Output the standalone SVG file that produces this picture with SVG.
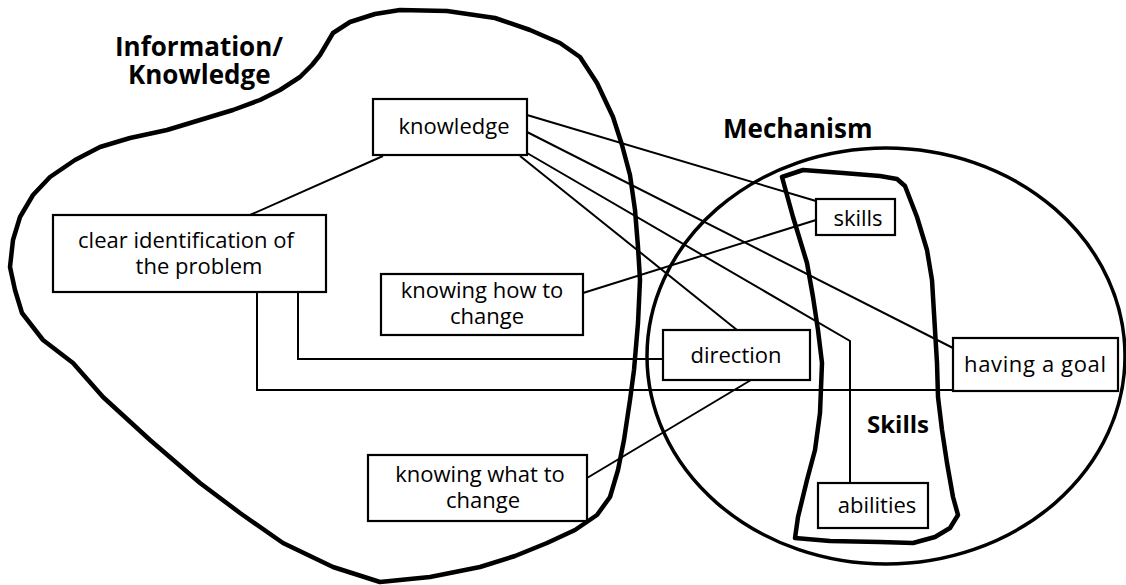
<svg xmlns="http://www.w3.org/2000/svg" width="1126" height="585" viewBox="0 0 1126 585">
<style>
.blob{fill:none;stroke:#000;stroke-width:4.5;stroke-linejoin:round;stroke-linecap:round}
.ell{fill:none;stroke:#000;stroke-width:3.5}
.con{fill:none;stroke:#000;stroke-width:2}
.box{fill:#fff;stroke:#000;stroke-width:2.2}
.t{font-family:"Open Sans","Liberation Sans",sans-serif;font-size:22px;fill:#000;text-anchor:middle}
.h{font-family:"Open Sans","Liberation Sans",sans-serif;font-size:26px;font-weight:bold;fill:#000}
</style>
<rect width="1126" height="585" fill="#fff"/>
<g id="info-region">
<path class="blob" d="M400,10 L447,11 L495,18 L530,30 L560,43 L580,57 L597,83 L613,117 L622,145 L630,175 L635,210 L638,247 L640,280 L638,323 L634,370 L630,400 L624,440 L618,470 L610,497 L597,515 L575,530 L547,543 L515,556 L480,567 L430,577 L380,582 L333,567 L283,543 L240,513 L200,483 L150,440 L103,397 L73,363 L43,340 L22,313 L15,290 L10,267 L13,240 L20,217 L33,195 L50,177 L75,160 L100,147 L130,138 L167,130 L200,120 L233,110 L260,100 L280,90 L300,77 L312,65 L320,55 L333,33 L350,22 L375,14 Z"/>
<text class="h" x="115" y="56">Information/</text>
<text class="h" x="128" y="84">Knowledge</text>
</g>
<g id="mechanism-region">
<ellipse class="ell" cx="886" cy="356" rx="239" ry="208"/>
<text class="h" x="723" y="138">Mechanism</text>
</g>
<g id="skills-region">
<path class="blob" d="M782,177 L803,170 L843,173 L880,176 L897,179 L905,186 L917,217 L927,250 L932,280 L935,330 L937,363 L938,397 L942,430 L947,463 L953,497 L958,515 L950,528 L935,537 L913,543 L880,542 L830,541 L795,538 L798,517 L807,480 L815,450 L820,413 L822,363 L818,330 L813,297 L807,263 L793,217 Z"/>
<text class="h" x="867" y="433" style="font-size:24px">Skills</text>
</g>
<g id="connectors">
<line class="con" x1="383" y1="156" x2="250" y2="215"/>
<line class="con" x1="527" y1="115" x2="816" y2="201"/>
<line class="con" x1="527" y1="132" x2="953" y2="348"/>
<polyline class="con" points="527,153 850,341 850,483"/>
<line class="con" x1="520" y1="156" x2="737" y2="330"/>
<line class="con" x1="583" y1="293" x2="816" y2="220"/>
<polyline class="con" points="298,292 298,359 663,359"/>
<polyline class="con" points="257,292 257,390 953,390"/>
<line class="con" x1="587" y1="478" x2="751" y2="380"/>
</g>
<g id="node-knowledge">
<rect class="box" x="373" y="99" width="154" height="56"/>
<text class="t" x="454" y="134">knowledge</text>
</g>
<g id="node-clear-identification">
<rect class="box" x="53" y="215" width="273" height="77"/>
<text class="t" x="186" y="248">clear identification of</text>
<text class="t" x="199" y="274">the problem</text>
</g>
<g id="node-knowing-how">
<rect class="box" x="381" y="274" width="202" height="61"/>
<text class="t" x="482" y="298">knowing how to</text>
<text class="t" x="487" y="324">change</text>
</g>
<g id="node-knowing-what">
<rect class="box" x="368" y="455" width="219" height="66"/>
<text class="t" x="480" y="482">knowing what to</text>
<text class="t" x="483" y="508">change</text>
</g>
<g id="node-direction">
<rect class="box" x="663" y="330" width="147" height="50"/>
<text class="t" x="736" y="363">direction</text>
</g>
<g id="node-skills">
<rect class="box" x="816" y="199" width="79" height="36"/>
<text class="t" x="858" y="226">skills</text>
</g>
<g id="node-having-goal">
<rect class="box" x="953" y="338" width="165" height="53"/>
<text class="t" x="1035" y="372" textLength="142">having a goal</text>
</g>
<g id="node-abilities">
<rect class="box" x="818" y="483" width="110" height="45"/>
<text class="t" x="877" y="513">abilities</text>
</g>
</svg>
